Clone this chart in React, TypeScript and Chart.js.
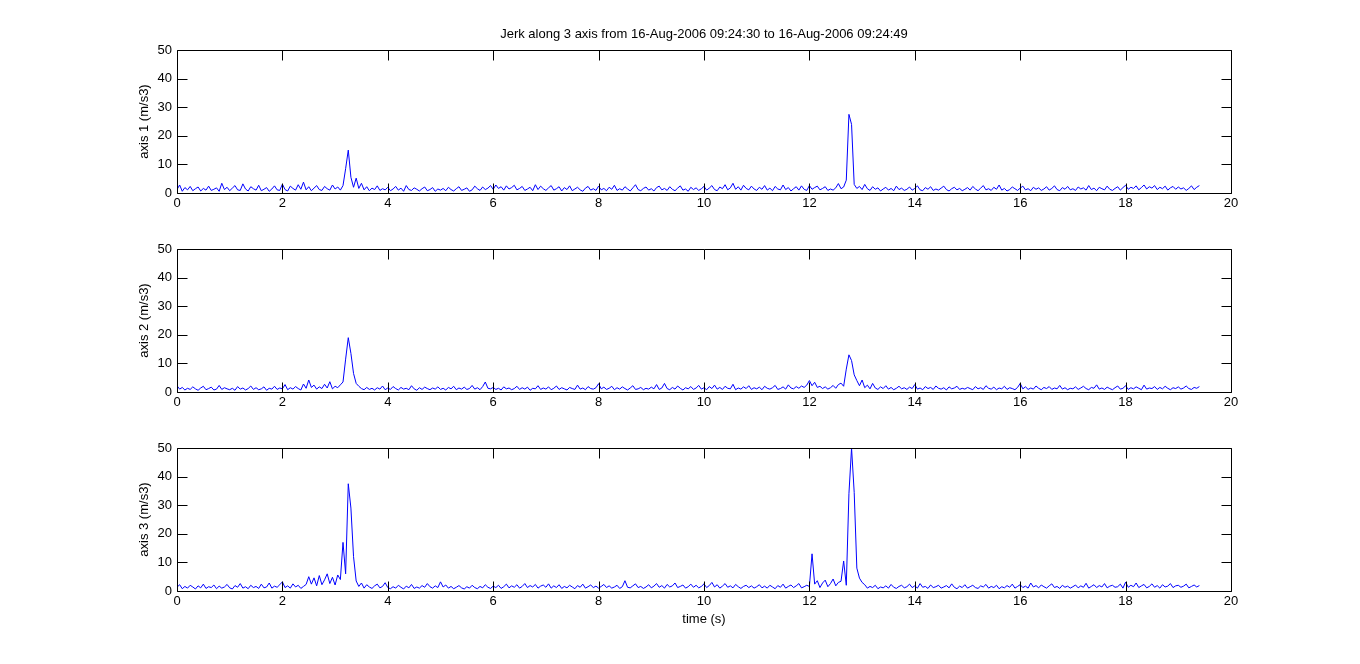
import { useEffect, useRef } from 'react';
import Chart from 'chart.js/auto';

// sampling interval of the recording (s)
const SAMPLE_STEP = 0.05;
const X_TICKS = [0, 2, 4, 6, 8, 10, 12, 14, 16, 18, 20];
const Y_TICKS = [0, 10, 20, 30, 40, 50];
const TITLE = 'Jerk along 3 axis from 16-Aug-2006 09:24:30 to 16-Aug-2006 09:24:49';
const X_LABEL = 'time (s)';
const Y_LABELS = ['axis 1 (m/s3)', 'axis 2 (m/s3)', 'axis 3 (m/s3)'];

// jerk magnitude, one value per sample from 0 s to 19.4 s
const AXIS_1 = [
  1.2, 2.8, 0.6, 1.9, 1.1, 2.3, 0.8, 1.5, 2.1, 0.7, 1.6, 1.0, 2.4, 0.9, 1.3, 1.8, 0.6, 3.4, 1.2, 2.0,
  0.8, 1.7, 2.6, 1.1, 0.9, 3.2, 1.4, 0.7, 2.2, 1.5, 1.0, 2.7, 0.8, 1.3, 1.9, 0.6, 1.4, 2.5, 1.1, 0.9,
  3.1, 1.2, 0.7, 2.4, 1.6, 1.0, 2.9, 1.3, 3.8, 1.1, 2.2, 0.8, 1.7, 2.6, 1.2, 0.9, 2.3, 1.5, 1.0, 2.8,
  1.4, 2.1, 1.0, 2.6, 8.5, 15.0, 5.5, 2.0, 5.2, 1.6, 3.4, 1.1, 2.2, 0.8, 1.7, 1.2, 2.5, 0.9, 1.5, 1.1,
  2.0, 0.8, 1.4, 2.3, 1.0, 1.7, 0.6, 2.6, 1.2, 0.9, 1.8, 1.3, 0.7, 1.5, 2.1, 0.8, 1.2, 1.9, 0.6, 1.4,
  1.0, 1.6, 0.8, 2.0, 1.2, 0.7, 1.5, 2.2, 0.9, 1.3, 1.8, 0.6, 1.1, 2.4, 1.5, 0.9, 2.1, 1.2, 1.7, 2.6,
  1.3, 2.8, 1.6, 2.2, 1.0, 2.5, 1.4, 1.9, 2.7, 1.1, 1.6, 2.3, 0.9, 1.4, 2.0, 0.8, 2.9, 1.2, 2.4, 1.5,
  0.9, 1.8, 2.6, 1.0, 1.5, 2.2, 0.7, 1.9, 1.2, 2.5, 0.8, 1.4, 2.0, 1.1, 0.6, 1.7, 2.3, 1.0, 1.5, 0.9,
  2.4, 1.1, 1.6, 0.8, 2.0, 1.3, 2.7, 0.9, 1.5, 1.0, 2.2, 1.4, 0.7, 1.8, 2.9, 1.2, 0.8, 1.6, 2.1, 1.0,
  1.5, 0.7, 1.9, 2.4, 1.1, 1.6, 0.9, 2.2, 1.3, 0.8, 1.7, 2.5, 1.0, 1.4, 0.6, 2.0, 1.2, 1.8, 0.9, 1.5,
  2.3, 1.0, 1.7, 2.6, 1.2, 0.8, 2.1, 1.5, 2.9, 1.1, 1.8, 3.4, 1.3, 2.2, 1.0, 2.7, 1.6, 1.1, 2.4, 1.4,
  0.9, 2.0, 1.3, 2.6, 1.0, 1.7, 0.8, 2.3, 1.4, 1.1, 2.8, 1.2, 1.9, 0.7, 1.5, 2.2, 1.0, 2.5, 1.3, 0.9,
  2.6, 1.3, 1.9, 2.4, 1.1, 1.6, 2.2, 0.9, 1.4, 1.0, 1.8, 3.3, 1.5, 2.1, 4.5, 27.5, 24.0, 3.0, 1.6, 2.3,
  1.2, 3.0, 1.5, 0.9, 2.2, 1.3, 1.8, 0.7, 1.4, 2.0, 1.0, 1.6, 0.8, 2.4, 1.2, 1.7, 0.9, 1.3, 2.1, 1.0,
  1.6, 2.5, 1.1, 0.8, 1.9, 1.3, 2.2, 0.9, 1.4, 1.0, 1.7, 2.4, 1.2, 0.7, 1.5, 2.0, 1.1, 1.6, 0.8, 1.3,
  1.9, 1.0, 2.3, 1.4, 0.8, 1.7, 2.6, 1.1, 1.5, 0.9, 2.0, 1.3, 2.8, 1.0, 1.6, 0.7, 1.2, 2.1, 1.5, 0.9,
  1.7, 2.4, 1.1, 1.5, 0.8, 2.0, 1.3, 1.8, 0.9, 1.4, 2.2, 1.0, 1.6, 2.5, 1.2, 0.8, 1.9, 1.3, 2.3, 1.1,
  1.5, 0.9, 2.1, 1.4, 1.8, 1.0, 2.6, 1.2, 1.7, 0.8, 2.0, 1.5, 1.1, 2.4, 1.3, 0.9, 1.6, 2.2, 1.0, 1.9,
  2.7, 1.3, 2.0, 1.6, 2.5, 1.1, 1.9, 2.8, 1.4, 2.2, 1.7, 2.6, 1.2, 2.0, 1.5, 2.4, 1.0, 1.8, 2.3, 1.3,
  2.1, 1.4, 1.8, 0.9, 1.6, 2.5, 1.2, 2.0, 2.6,
];

const AXIS_2 = [
  2.2, 1.0, 1.6, 0.7, 1.3, 0.9, 1.8, 1.1, 0.6, 1.4, 2.0, 0.8, 1.2, 1.7, 0.7, 1.0, 2.3, 0.9, 1.5, 1.1,
  0.8, 1.3, 0.6, 1.9, 1.0, 1.4, 0.7, 1.2, 2.1, 0.9, 1.5, 0.8, 1.1, 1.8, 0.6, 1.3, 1.0, 2.0, 0.9, 1.4,
  1.1, 2.6, 0.8, 1.5, 1.0, 1.9, 1.2, 0.7, 2.8, 1.3, 4.2, 1.6, 2.4, 1.0, 1.8, 1.2, 2.7, 1.4, 3.6, 1.1,
  2.0, 1.5, 2.5, 3.5, 11.5, 19.0, 13.5, 6.5, 3.0, 2.0, 1.2, 0.8, 1.6, 0.9, 1.3, 0.7, 1.5, 1.0, 2.1, 0.8,
  1.4, 0.9, 1.9, 1.2, 0.7, 1.6, 1.0, 1.3, 0.8, 2.2, 1.1, 0.6, 1.5, 0.9, 1.7, 1.2, 0.8, 1.4, 1.0, 1.8,
  0.9, 1.3, 0.7, 1.6, 1.1, 2.0, 0.8, 1.4, 1.0, 1.7, 0.9, 1.2, 2.3, 1.0, 1.5, 0.8, 1.9, 3.5, 1.3, 1.1,
  1.6, 0.9, 1.3, 0.7, 1.8, 1.1, 1.4, 0.8, 1.2, 2.0, 0.9, 1.5, 1.0, 1.7, 0.6, 1.3, 1.1, 2.2, 0.9, 1.4,
  1.0, 1.8, 0.8, 1.3, 2.1, 0.9, 1.5, 1.1, 0.7, 1.6, 1.2, 0.9, 2.4, 1.0, 1.4, 0.8, 1.9, 1.2, 1.0, 1.5,
  2.9, 1.1, 1.7, 0.9, 1.3, 2.0, 0.8, 1.5, 1.0, 1.8, 1.2, 0.7, 1.4, 2.2, 0.9, 1.1, 1.6, 0.8, 1.3, 1.0,
  1.7, 1.1, 2.6, 0.9, 1.4, 3.0, 1.2, 0.8, 1.6, 1.0, 2.1, 1.3, 0.7, 1.5, 1.1, 1.9, 0.9, 1.4, 2.3, 1.0,
  1.5, 0.8, 1.9, 1.2, 2.4, 1.0, 1.6, 0.9, 2.0, 1.3, 1.1, 2.7, 0.8, 1.4, 1.0, 1.8, 1.2, 2.2, 0.9, 1.5,
  1.1, 1.7, 0.8, 2.0, 1.3, 1.0, 1.5, 2.3, 0.9, 1.2, 1.8, 1.0, 2.5, 1.4, 1.1, 1.9, 1.3, 2.1, 1.6, 2.4,
  4.0, 2.2, 3.4, 1.6, 2.0, 1.2, 1.8, 1.0, 1.5, 2.3, 1.3, 2.6, 3.1, 2.0, 8.0, 13.0, 11.0, 6.0, 4.0, 2.2,
  4.2, 1.5, 2.4, 1.1, 3.0, 1.4, 0.9, 1.8, 1.2, 2.2, 1.0, 1.6, 0.8, 1.3, 2.0, 1.1, 1.5, 0.9, 1.7, 1.2,
  2.6, 1.0, 1.4, 0.8, 1.9, 1.2, 1.6, 0.9, 2.1, 1.3, 1.0, 1.5, 0.7, 1.8, 1.1, 1.4, 2.0, 0.9, 1.3, 1.0,
  1.6, 1.2, 0.8, 1.9, 1.1, 1.5, 0.9, 2.2, 1.3, 1.0, 1.7, 0.8, 1.4, 1.1, 2.0, 0.9, 1.5, 1.2, 0.8, 1.6,
  3.0, 1.1, 1.8, 0.9, 1.4, 1.0, 2.1, 1.3, 0.8, 1.6, 1.2, 1.9, 0.9, 1.4, 1.1, 2.3, 1.0, 1.5, 0.8, 1.3,
  1.1, 1.8, 0.9, 1.4, 2.0, 1.2, 0.8, 1.6, 1.3, 2.5, 1.0, 1.4, 0.9, 1.7, 1.2, 0.8, 1.5, 2.1, 1.0, 1.3,
  2.2, 0.9, 1.5, 1.1, 1.8, 1.3, 0.8, 2.4, 1.0, 1.4, 1.2, 1.9, 0.9, 1.6, 1.1, 2.0, 1.3, 0.8, 1.5, 1.2,
  1.8, 1.0, 1.4, 2.1, 1.2, 0.9, 1.6, 1.3, 1.9,
];

const AXIS_3 = [
  1.3, 2.2, 0.8, 1.6, 1.0, 2.0, 1.4, 0.7, 1.8, 1.1, 2.4, 0.9, 1.5, 1.2, 2.1, 0.8, 1.7, 1.0, 1.4, 2.3,
  1.1, 0.7, 1.9, 1.3, 2.6, 1.0, 1.5, 0.8, 2.0, 1.2, 1.6, 0.9, 2.4, 1.1, 1.4, 2.8, 1.0, 1.7, 1.3, 2.2,
  3.2, 1.2, 1.8, 1.0, 2.5, 1.4, 2.0, 0.9, 1.6, 2.3, 5.0, 2.4, 4.6, 1.8, 5.4, 2.2, 3.9, 6.0, 2.6, 4.8,
  2.1, 5.6, 4.0, 17.0, 6.0, 37.5, 29.0, 12.0, 3.5, 1.6, 2.8, 1.0, 2.2, 1.4, 0.9, 1.8, 2.4, 1.1, 1.6, 2.9,
  1.2, 0.8, 1.5, 1.0, 2.0, 1.3, 0.7, 1.7, 1.1, 2.3, 0.9, 1.4, 1.0, 1.9, 1.3, 2.6, 1.5, 1.0, 1.8, 1.2,
  3.2, 1.4, 2.1, 1.0, 1.6, 0.8, 1.3, 1.9, 1.1, 0.7, 1.5, 1.0, 2.0, 1.2, 0.8, 1.6, 1.1, 2.2, 1.3, 0.9,
  1.7, 1.2, 2.0, 0.9, 1.5, 2.4, 1.1, 1.8, 1.3, 2.2, 1.0, 1.6, 2.6, 1.2, 1.9, 1.4, 2.3, 1.0, 1.7, 2.1,
  1.3, 2.5, 1.0, 1.8, 1.2, 2.2, 0.9, 1.6, 1.1, 2.0, 1.4, 0.8, 1.9, 1.3, 2.4, 1.0, 1.5, 2.1, 1.2, 1.7,
  1.0, 1.6, 2.3, 1.2, 1.8, 1.0, 1.4, 2.0, 0.9, 1.5, 3.6, 1.3, 1.1, 1.8, 2.5, 1.2, 1.6, 0.9, 1.4, 2.2,
  1.1, 1.7, 2.6, 1.3, 1.9, 1.0, 2.3, 1.4, 1.8, 2.8, 1.2, 1.6, 2.1, 1.0, 1.5, 2.4, 1.3, 2.0, 1.1, 1.6,
  2.5, 1.2, 1.9, 3.0, 1.4, 2.2, 1.0, 1.7, 2.6, 1.3, 1.8, 1.1, 2.3, 1.5, 0.9, 1.6, 2.0, 1.2, 1.8, 1.0,
  1.5, 2.2, 1.1, 1.7, 1.0, 2.0, 1.4, 0.8, 1.9, 1.3, 2.4, 1.0, 1.6, 2.1, 1.2, 1.8, 2.6, 1.1, 1.5, 2.0,
  1.6, 13.0, 2.4, 3.6, 1.2, 2.8, 3.8, 1.5, 2.6, 4.2, 1.8, 3.0, 3.4, 10.5, 2.0, 34.0, 50.0, 34.5, 8.0, 4.5,
  3.0, 2.2, 1.0, 1.6, 1.2, 2.0, 0.8, 1.4, 1.1, 1.8, 1.0, 2.3, 1.3, 0.9, 1.6, 2.0, 1.1, 1.5, 2.4, 1.2,
  1.8, 1.0, 2.6, 1.3, 1.6, 0.9, 2.1, 1.2, 1.5, 2.0, 1.0, 1.4, 1.9, 1.1, 2.5, 1.3, 0.8, 1.7, 1.2, 2.2,
  1.0, 1.5, 2.0, 1.2, 0.9, 1.8, 1.4, 2.3, 1.0, 1.6, 1.2, 2.0, 0.8, 1.5, 1.1, 1.9, 1.3, 2.4, 1.0, 1.6,
  2.2, 1.2, 1.7, 1.0, 2.8, 1.4, 1.9, 1.1, 2.1, 1.5, 1.0, 1.8, 2.5, 1.2, 1.6, 0.9, 2.0, 1.3, 1.7, 1.0,
  1.5, 2.1, 1.1, 1.8, 1.3, 2.7, 1.0, 1.6, 2.2, 1.2, 1.9, 1.4, 2.6, 1.1, 1.7, 2.0, 1.3, 1.5, 2.4, 1.0,
  3.1, 1.3, 2.0, 1.5, 2.8, 1.2, 1.8, 2.3, 1.1, 1.6, 2.5, 1.3, 1.9, 1.0, 2.2, 1.4, 1.7, 2.6, 1.2, 1.8,
  2.0, 1.3, 1.7, 2.4, 1.1, 1.6, 2.1, 1.4, 1.9,
];

const FONT = { family: '"Liberation Sans", Arial, sans-serif', size: 13, weight: 'normal' as const };
const TICK_LEN = 10;

// MATLAB style box with inward ticks on all four sides
const boxAxes = {
  id: 'boxAxes',
  afterDatasetsDraw(chart: any) {
    const { ctx, chartArea } = chart;
    const { x, y } = chart.scales;
    const l = Math.round(chartArea.left) + 0.5;
    const r = Math.round(chartArea.right) + 0.5;
    const t = Math.round(chartArea.top) + 0.5;
    const b = Math.round(chartArea.bottom) + 0.5;
    ctx.save();
    ctx.strokeStyle = '#000';
    ctx.lineWidth = 1;
    ctx.beginPath();
    ctx.rect(l, t, r - l, b - t);
    x.ticks.forEach((tk: any) => {
      const px = Math.round(x.getPixelForValue(tk.value)) + 0.5;
      ctx.moveTo(px, b);
      ctx.lineTo(px, b - TICK_LEN);
      ctx.moveTo(px, t);
      ctx.lineTo(px, t + TICK_LEN);
    });
    y.ticks.forEach((tk: any) => {
      const py = Math.round(y.getPixelForValue(tk.value)) + 0.5;
      ctx.moveTo(l, py);
      ctx.lineTo(l + TICK_LEN, py);
      ctx.moveTo(r, py);
      ctx.lineTo(r - TICK_LEN, py);
    });
    ctx.stroke();
    ctx.restore();
  },
};

type SubplotProps = {
  values: number[];
  yLabel: string;
  top: number;
  height: number;
  padTop: number;
  xAxisHeight: number;
  title?: string;
  xLabel?: string;
};

const Subplot = ({ values, yLabel, top, height, padTop, xAxisHeight, title, xLabel }: SubplotProps) => {
  const canvasRef = useRef<HTMLCanvasElement>(null);
  const chartRef = useRef<Chart>();

  useEffect(() => {
    if (!canvasRef.current) return;
    if (chartRef.current) chartRef.current.destroy();

    const points = values.map((v, i) => ({ x: i * SAMPLE_STEP, y: v }));

    chartRef.current = new Chart(canvasRef.current, {
      type: 'line',
      data: {
        datasets: [{
          data: points,
          borderColor: '#0000ff',
          borderWidth: 1,
          pointRadius: 0,
          tension: 0,
          fill: false,
        }],
      },
      options: {
        responsive: false,
        animation: false,
        events: [],
        layout: { padding: { left: 0, right: 129, top: padTop, bottom: 0 } },
        plugins: {
          legend: { display: false },
          tooltip: { enabled: false },
          title: {
            display: !!title,
            text: title || '',
            color: '#000',
            fullSize: false,
            font: { ...FONT, lineHeight: 1 },
            padding: { top: 28, bottom: 9 },
          },
        },
        scales: {
          x: {
            type: 'linear',
            min: 0,
            max: 20,
            afterBuildTicks: (scale: any) => {
              scale.ticks = X_TICKS.map((v) => ({ value: v }));
            },
            afterFit: (scale: any) => {
              scale.height = xAxisHeight;
            },
            grid: { display: false, drawTicks: false },
            border: { display: false },
            ticks: { color: '#000', font: FONT, padding: 3, maxRotation: 0, autoSkip: false },
            title: {
              display: !!xLabel,
              text: xLabel || '',
              color: '#000',
              font: { ...FONT, lineHeight: 1 },
              padding: { top: 0, bottom: 38 },
            },
          },
          y: {
            type: 'linear',
            min: 0,
            max: 50,
            afterBuildTicks: (scale: any) => {
              scale.ticks = Y_TICKS.map((v) => ({ value: v }));
            },
            afterFit: (scale: any) => {
              scale.width = 177;
            },
            grid: { display: false, drawTicks: false },
            border: { display: false },
            ticks: { color: '#000', font: FONT, padding: 5 },
            title: {
              display: true,
              text: yLabel,
              color: '#000',
              font: { ...FONT, lineHeight: 1 },
              padding: { top: 138, bottom: 0 },
            },
          },
        },
      },
      plugins: [boxAxes],
    });

    return () => {
      if (chartRef.current) {
        chartRef.current.destroy();
        chartRef.current = undefined;
      }
    };
  }, [values, yLabel, padTop, xAxisHeight, title, xLabel]);

  return (
    <canvas
      ref={canvasRef}
      width={1360}
      height={height}
      style={{ position: 'absolute', left: 0, top, width: 1360, height }}
    />
  );
};

const App = () => (
  <div style={{ position: 'fixed', left: 0, top: 0, width: 1360, height: 664, background: '#fff', overflow: 'hidden' }}>
    <Subplot values={AXIS_1} yLabel={Y_LABELS[0]} top={0} height={215} padTop={0} xAxisHeight={22} title={TITLE} />
    <Subplot values={AXIS_2} yLabel={Y_LABELS[1]} top={215} height={199} padTop={34} xAxisHeight={22} />
    <Subplot values={AXIS_3} yLabel={Y_LABELS[2]} top={414} height={250} padTop={34} xAxisHeight={73} xLabel={X_LABEL} />
  </div>
);

export default App;
